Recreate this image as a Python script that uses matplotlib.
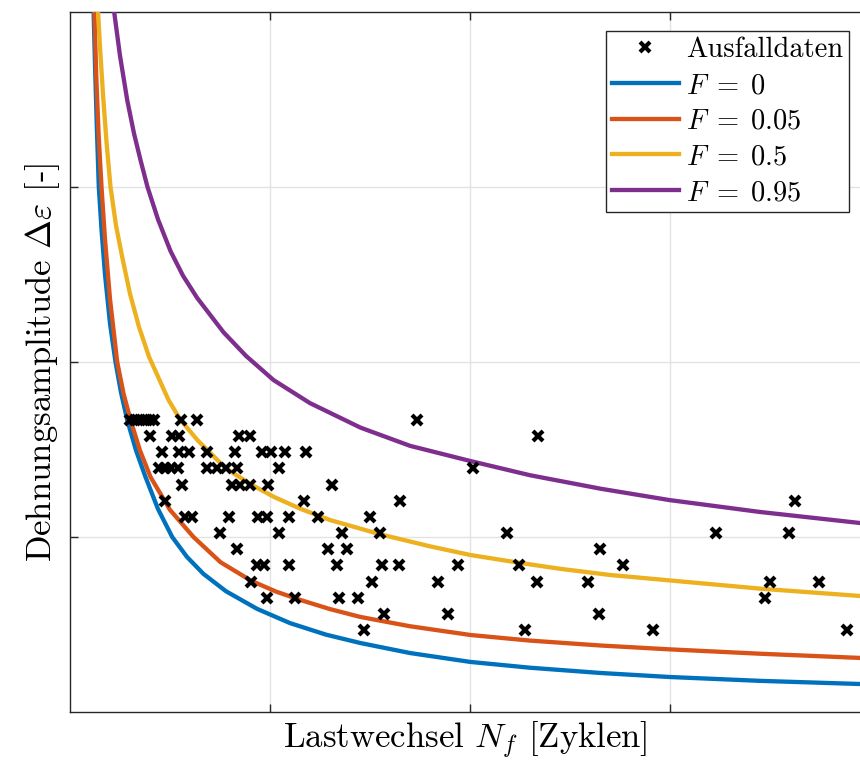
import matplotlib
matplotlib.use("Agg")
import matplotlib.pyplot as plt

plt.rcParams['mathtext.fontset'] = 'cm'
plt.rcParams['axes.formatter.use_mathtext'] = True

# ---- Ausfalldaten (failure data): N_f and strain amplitude ----
ausfall_N = [
    0.2975, 0.3225, 0.3475, 0.3725, 0.3975, 0.4175, 0.5525, 0.6375, 1.7375,
    0.3975, 0.5125, 0.5425, 0.8475, 0.9025, 2.3375,
    0.4575, 0.5425, 0.5925, 0.6875, 0.8275, 0.9575, 1.0025, 1.0725, 1.1775,
    0.4425, 0.4725, 0.5075, 0.5375, 0.6875, 0.7325, 0.7825, 0.8375, 1.0425, 2.0175,
    0.5575, 0.8125, 0.8525, 0.9025, 0.9875, 1.3125,
    0.4725, 1.1675, 1.6525, 3.6275,
    0.5725, 0.6075, 0.7975, 0.9375, 0.9825, 1.0975, 1.2375, 1.5025,
    0.7475, 1.0425, 1.3625, 1.5525, 2.1875, 3.2325, 3.5975,
    0.8375, 1.2925, 1.3875, 2.6525,
    0.9325, 0.9675, 1.0975, 1.3375, 1.5575, 1.6475, 1.9425, 2.2425, 2.7675,
    0.9075, 1.5125, 1.8425, 2.3325, 2.5925, 3.5025, 3.7475,
    0.9825, 1.1275, 1.3475, 1.4425, 3.4775,
    1.5725, 1.8925, 2.6475,
    1.4725, 2.2775, 2.9175, 3.8875,
]
ausfall_eps = (
    [1.669] * 9 + [1.577] * 6 + [1.486] * 9 + [1.394] * 10 + [1.297] * 6 +
    [1.206] * 4 + [1.114] * 8 + [1.023] * 7 + [0.931] * 4 + [0.840] * 9 +
    [0.743] * 7 + [0.651] * 5 + [0.560] * 3 + [0.469] * 4
)

# ---- Curves for failure probabilities F ----
F0_N = [0.117, 0.125, 0.134, 0.144, 0.158, 0.175, 0.2, 0.2275, 0.255, 0.286,
         0.33, 0.3775, 0.44, 0.511, 0.585, 0.6675, 0.78, 0.936, 1.1, 1.28,
         1.4525, 1.7, 2.0025, 2.3, 2.6525, 2.9975, 3.45, 3.95]
F0_eps = [4.05, 3.7, 3.35, 3.0, 2.75, 2.5, 2.22, 2.0, 1.826, 1.669,
          1.495, 1.343, 1.16, 1.0, 0.886, 0.789, 0.69, 0.589, 0.508, 0.442,
          0.394, 0.337, 0.286, 0.253, 0.223, 0.2, 0.178, 0.16]

F005_N = [0.121, 0.131, 0.143, 0.1575, 0.175, 0.2, 0.236, 0.268, 0.3025, 0.35,
          0.4025, 0.5, 0.6175, 0.7525, 0.9075, 1.03, 1.1525, 1.3, 1.4525, 1.7,
          2.0025, 2.3, 2.6525, 2.9975, 3.45, 3.95]
F005_eps = [4.05, 3.64, 3.3, 3.0, 2.7, 2.36, 2.0, 1.818, 1.669, 1.494,
            1.343, 1.155, 1.0, 0.856, 0.749, 0.688, 0.64, 0.588, 0.543, 0.49,
            0.44, 0.408, 0.38, 0.358, 0.333, 0.309]

F05_N = [0.138, 0.15, 0.165, 0.183, 0.2025, 0.23, 0.261, 0.3, 0.345, 0.395,
         0.4925, 0.5525, 0.64, 0.7775, 0.9025, 1.02, 1.1525, 1.3, 1.5525, 1.8025,
         2.0025, 2.25, 2.4525, 2.7, 2.9975, 3.45, 3.95]
F05_eps = [4.05, 3.8, 3.53, 3.25, 3.0, 2.78, 2.6, 2.39, 2.2, 2.03,
           1.783, 1.669, 1.55, 1.394, 1.302, 1.229, 1.161, 1.097, 1.015, 0.946,
           0.897, 0.852, 0.818, 0.783, 0.752, 0.705, 0.663]

F095_N = [0.215, 0.25, 0.286, 0.32, 0.3525, 0.3875, 0.44, 0.5025, 0.565, 0.636,
          0.7675, 0.88, 1.0175, 1.2, 1.4525, 1.7, 2.0025, 2.3, 2.6525, 2.9975,
          3.45, 3.95]
F095_eps = [4.05, 3.75, 3.497, 3.306, 3.154, 3.0, 2.815, 2.634, 2.493, 2.366,
            2.17, 2.035, 1.897, 1.765, 1.625, 1.521, 1.434, 1.353, 1.276, 1.211,
            1.143, 1.08]

labels = [r'Ausfalldaten', r'$F\;=\;0$', r'$F\;=\;0.05$', r'$F\;=\;0.5$', r'$F\;=\;0.95$']
colors = ['#0072BD', '#D95319', '#EDB120', '#7E2F8E']

x_ticks = [1, 2, 3]
y_ticks = [1, 2, 3]

fig = plt.figure(figsize=(8.6, 7.62), dpi=100)
ax = fig.add_axes([70 / 860, 50 / 762, 790 / 860, 700 / 762])

h_data, = ax.plot(ausfall_N, ausfall_eps, ls='none', marker='x', ms=7.2, mew=3.0,
                  color='black', zorder=4)
curves = [(F0_N, F0_eps), (F005_N, F005_eps), (F05_N, F05_eps), (F095_N, F095_eps)]
handles = [h_data]
for (xs, ys), c in zip(curves, colors):
    h, = ax.plot(xs, ys, color=c, lw=3.1, zorder=3, solid_joinstyle='round')
    handles.append(h)

ax.set_xlim(0, 3.95)
ax.set_ylim(0, 4)
ax.set_xticks(x_ticks)
ax.set_yticks(y_ticks)
ax.tick_params(direction='in', length=6, width=1, colors='#262626',
               labelbottom=False, labelleft=False, top=True, right=False)
ax.grid(True, color='#e3e3e3', lw=1)
ax.set_axisbelow(True)
for s in ['left', 'bottom', 'top']:
    ax.spines[s].set_color('#262626')
    ax.spines[s].set_linewidth(1)
ax.spines['right'].set_visible(False)

ax.set_xlabel(r'Lastwechsel $N_f$ [Zyklen]', fontsize=25, family='cmr10', labelpad=6)
ax.set_ylabel(r'Dehnungsamplitude $\Delta\varepsilon$ [-]', fontsize=25, family='cmr10', labelpad=6)

leg = ax.legend(handles, labels, loc='upper right', bbox_to_anchor=(0.9865, 0.9733),
                borderaxespad=0, fancybox=False, edgecolor='#262626', framealpha=1,
                prop={'family': 'cmr10', 'size': 20.5}, handlelength=2.35,
                handletextpad=0.25, labelspacing=0.33, borderpad=0.22, numpoints=1)
leg.get_frame().set_linewidth(1)

fig.savefig('out.png', dpi=100)
